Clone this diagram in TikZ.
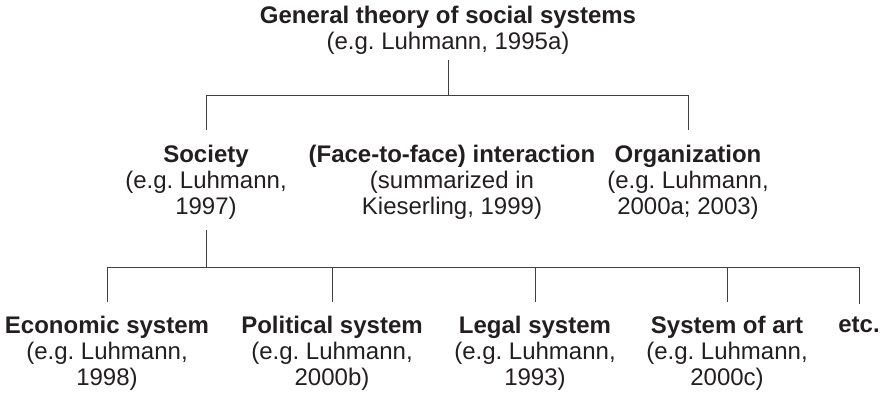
\documentclass[tikz,border=0pt]{standalone}
\usepackage{fontspec}
\setmainfont{Liberation Sans}
\usetikzlibrary{positioning}
\definecolor{inkc}{HTML}{231F20}
\definecolor{linec}{HTML}{404040}
\tikzset{
  entry/.style={align=center,text=inkc,inner sep=0pt,anchor=base,
    font=\fontsize{24}{26}\selectfont\frenchspacing},
  link/.style={draw=linec,line width=0.9pt},
  upper/.style={link,shorten <=15pt,shorten >=15pt},
  lower/.style={link,shorten <=13pt,shorten >=13pt}
}

\begin{document}
\begin{tikzpicture}[x=1pt,y=-1pt]
\useasboundingbox (0,0) rectangle (887,398);
% root (base = last line)
\node[entry] (gen) at (448,50) {\textbf{General theory of social systems}\\(e.g. Luhmann, 1995a)};
% three kinds of social systems
\node[entry] (soc) at (206,215) {\textbf{Society}\\(e.g. Luhmann,\\1997)};
\node[entry] (inter) at (452,215) {\textbf{(Face-to-face) interaction}\\(summarized in\\Kieserling, 1999)};
\node[entry] (org) at (688,215) {\textbf{Organization}\\(e.g. Luhmann,\\2000a; 2003)};
% function systems of society
\node[entry] (econ) at (107,385) {\textbf{Economic system}\\(e.g. Luhmann,\\1998)};
\node[entry] (pol) at (332,385) {\textbf{Political system}\\(e.g. Luhmann,\\2000b)};
\node[entry] (legal) at (535,385) {\textbf{Legal system}\\(e.g. Luhmann,\\1993)};
\node[entry] (art) at (727,385) {\textbf{System of art}\\(e.g. Luhmann,\\2000c)};
\node[entry] (more) at (859,333) {\textbf{etc.}};

\coordinate (bus1) at (447,95);
\coordinate (bus2) at (206,267);

% upper level
\draw[link,shorten <=5pt] (gen.south) -- (gen.south |- bus1);
\draw[upper] (soc.north) -- (soc.north |- bus1) -- (org.north |- bus1) -- (org.north);
% lower level
\draw[link,shorten <=10pt] (soc.south) -- (soc.south |- bus2);
\draw[lower] (econ.north) -- (econ.north |- bus2) -- (more.north |- bus2) -- (more.north);
\foreach \n in {pol,legal,art}
  \draw[lower,shorten <=0pt] (\n.north |- bus2) -- (\n.north);
\end{tikzpicture}
\end{document}
